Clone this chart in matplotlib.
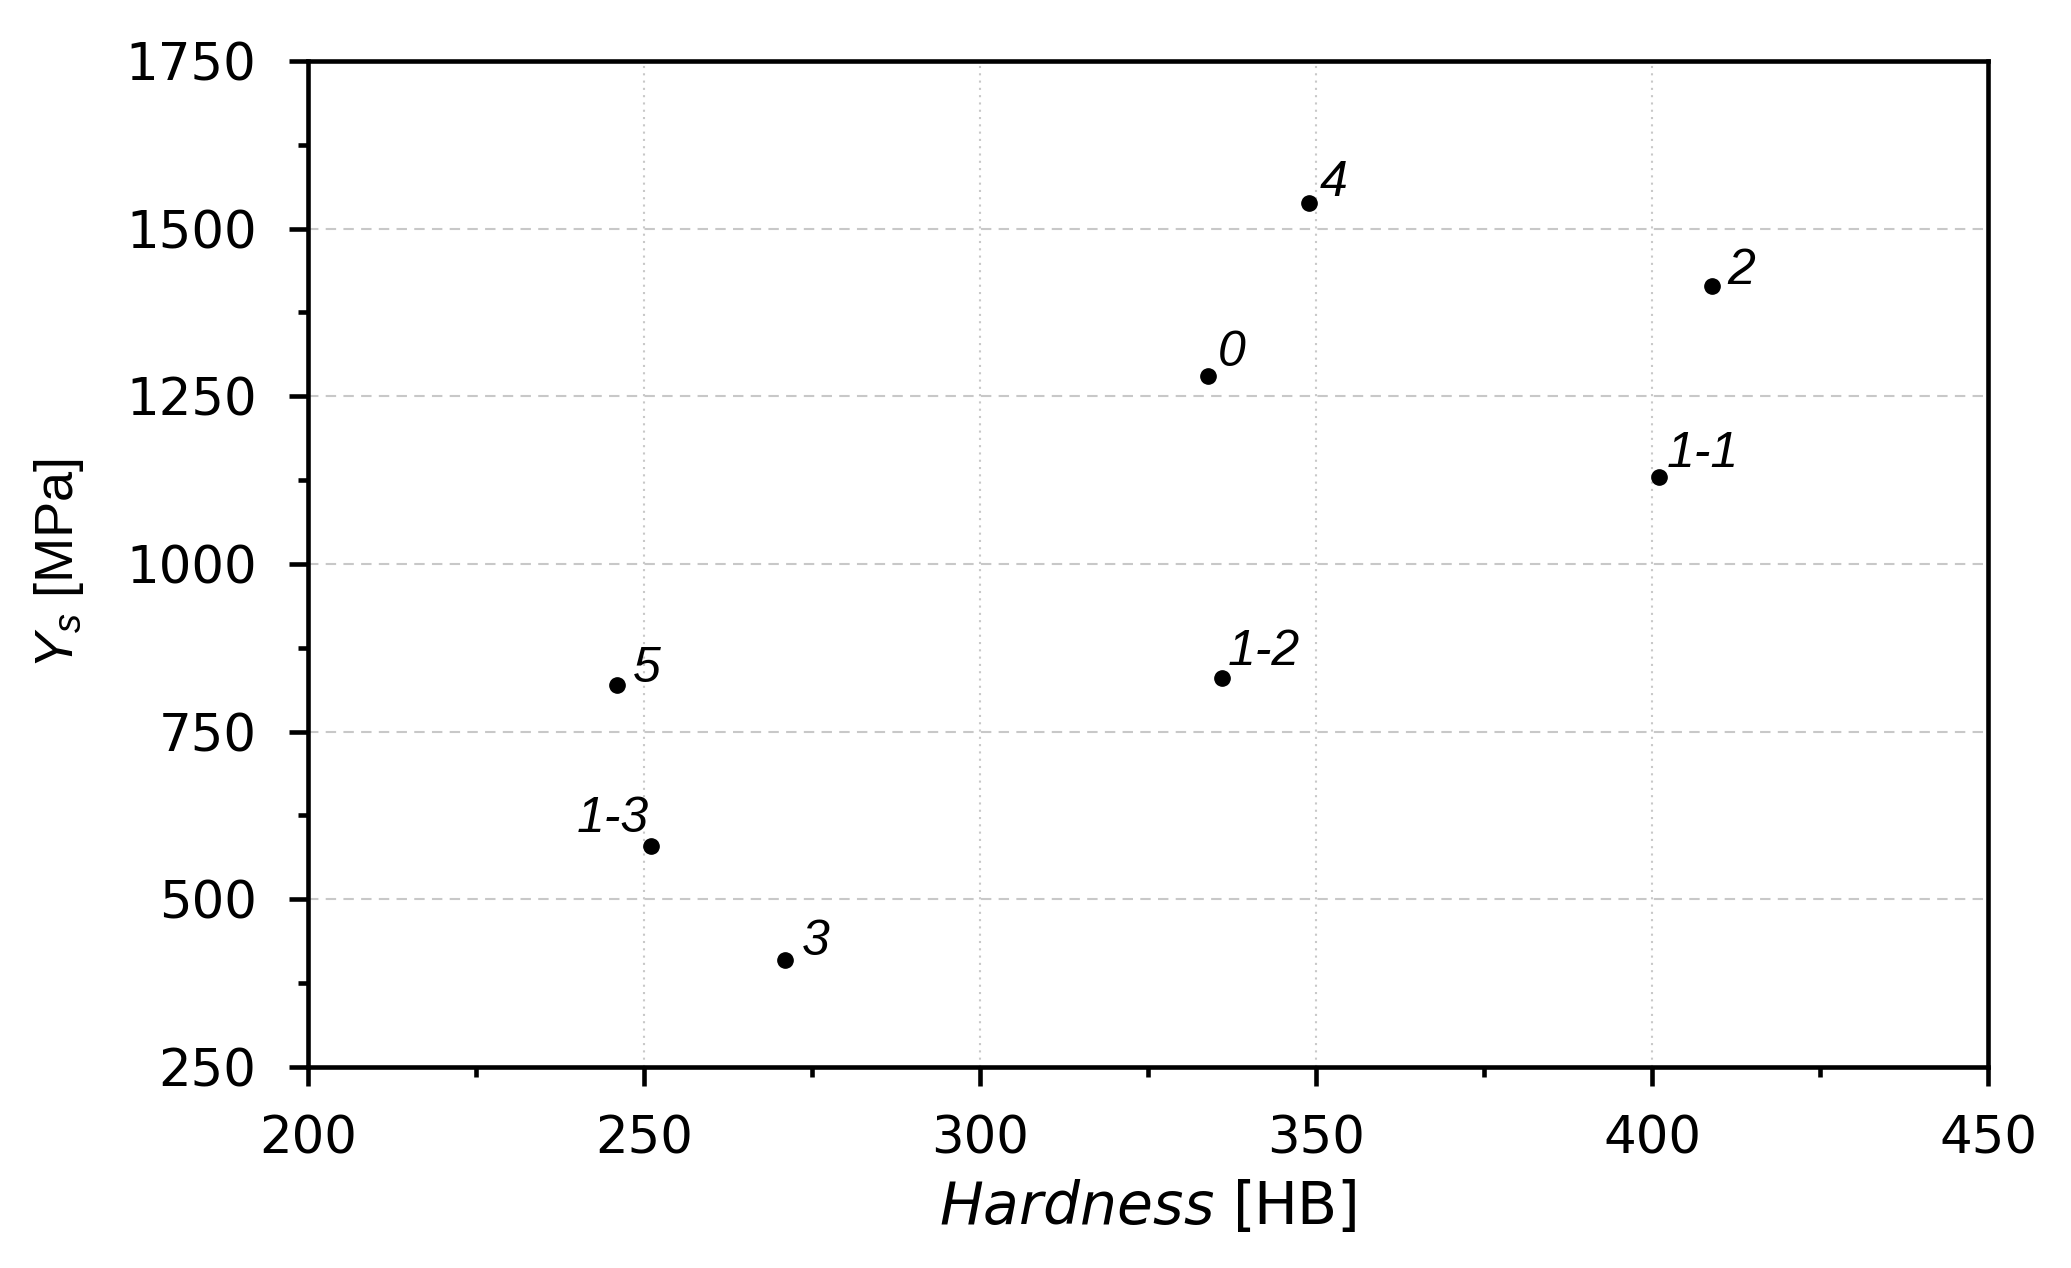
import matplotlib
matplotlib.use("Agg")
import matplotlib.pyplot as plt
from matplotlib.ticker import MultipleLocator

# ---- data ----
labels = ["0", "1-1", "1-2", "1-3", "2", "3", "4", "5"]
hardness = [334, 401, 336, 251, 409, 271, 349, 246]
yield_strength = [1280, 1130, 830, 580, 1415, 410, 1538, 820]
x_ticks = [200, 250, 300, 350, 400, 450]
y_ticks = [250, 500, 750, 1000, 1250, 1500, 1750]

# ---- label layout (pixel offsets, alignment) ----
label_layout = {
    "0": (9, 10, "left"),
    "1-1": (8, 10, "left"),
    "1-2": (6, 13, "left"),
    "1-3": (-2, 14, "right"),
    "2": (15, 2, "left"),
    "3": (17, 5, "left"),
    "4": (10, 7, "left"),
    "5": (16, 3, "left"),
}

plt.rcParams["font.family"] = ["DejaVu Sans"]
plt.rcParams["mathtext.fontset"] = "custom"
plt.rcParams["mathtext.rm"] = "Liberation Sans"
plt.rcParams["mathtext.it"] = "Liberation Sans:italic"

fig = plt.figure(figsize=(20.71, 12.68), dpi=100)
ax = fig.add_axes([308 / 2071, 1 - 1067 / 1268, (1988 - 308) / 2071, (1067 - 61) / 1268])

ax.plot(hardness, yield_strength, linestyle="none", marker="o", markersize=11,
        color="black", zorder=3)

for lab, x, y in zip(labels, hardness, yield_strength):
    dx, dy, ha = label_layout[lab]
    ax.annotate(lab, (x, y), xytext=(dx, dy), textcoords="offset pixels",
                ha=ha, va="baseline", fontsize=36, fontstyle="italic",
                family=["Liberation Sans"], zorder=4)

ax.set_xlim(200, 450)
ax.set_ylim(250, 1750)
ax.set_xticks(x_ticks)
ax.set_yticks(y_ticks)
ax.xaxis.set_minor_locator(MultipleLocator(25))
ax.yaxis.set_minor_locator(MultipleLocator(125))

for s in ax.spines.values():
    s.set_linewidth(3.3)

ax.tick_params(which="major", direction="out", length=14, width=3.3, labelsize=37)
ax.tick_params(axis="x", which="major", pad=20)
ax.tick_params(axis="y", which="major", pad=23)
ax.tick_params(which="minor", direction="out", length=7, width=3.3)

ax.xaxis.grid(True, which="major", color="#c8c8c8", linewidth=1.5, linestyle=(0, (1, 2.5)))
ax.yaxis.grid(True, which="major", color="#c8c8c8", linewidth=1.5, linestyle=(0, (5, 3.5)))
ax.set_axisbelow(True)

ax.set_xlabel(r"$\mathit{Hardness}$ [HB]", fontsize=42, labelpad=11,
              math_fontfamily="dejavusans")
ax.set_ylabel(r"$\mathit{Y_s}$ [MPa]", fontsize=39, family=["Liberation Sans"],
              math_fontfamily="custom")
ax.yaxis.set_label_coords(-0.132, 0.5)

fig.savefig("out.png", dpi=100)
